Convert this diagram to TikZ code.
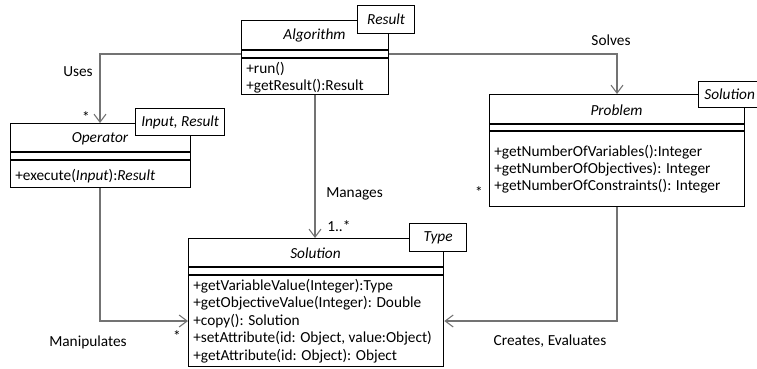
\documentclass[tikz,border=0pt]{standalone}
\usepackage{fontspec}
\setmainfont{Carlito}
\usetikzlibrary{arrows.meta,calc}
\begin{document}
\begin{tikzpicture}[x=0.75pt,y=-0.75pt,
  font=\fontsize{11.5}{13}\selectfont,
  cls/.style={draw=black, line width=1pt, fill=white, anchor=north west, inner sep=0pt},
  tmpl/.style={draw=black, line width=1pt, fill=white, anchor=north west, inner sep=0pt, font=\fontsize{11.5}{13}\selectfont\itshape},
  sepline/.style={draw=black, line width=1pt},
  conn/.style={draw=black!55, line width=0.8pt},
  arr/.style={-{Straight Barb[length=6pt,width=9pt,line width=0.8pt]}},
  cname/.style={inner sep=0pt, font=\fontsize{11.5}{13}\selectfont\itshape},
  opn/.style={anchor=west, inner sep=0pt},
  lbl/.style={inner sep=0pt}
]
\useasboundingbox (0,0) rectangle (757,368);

% ---------- Algorithm ----------
\node[cls, minimum width={147*0.75pt}, minimum height={74*0.75pt}] (alg) at (241,20) {};
\draw[sepline] ($(alg.north west)+(0,30)$) -- ($(alg.north east)+(0,30)$);
\draw[sepline] ($(alg.north west)+(0,38)$) -- ($(alg.north east)+(0,38)$);
\node[cname] (algn) at (314.5,35) {Algorithm};
\node[opn] (alg1) at (246,69) {+run()};
\node[opn] (alg2) at (246,86) {+getResult():Result};
\node[tmpl, minimum width={57*0.75pt}, minimum height={28*0.75pt}] (algt) at (357,5) {Result};

% ---------- Operator ----------
\node[cls, minimum width={180*0.75pt}, minimum height={64*0.75pt}] (op) at (10,123) {};
\draw[sepline] ($(op.north west)+(0,29)$) -- ($(op.north east)+(0,29)$);
\draw[sepline] ($(op.north west)+(0,37)$) -- ($(op.north east)+(0,37)$);
\node[cname] (opn) at (100,139) {Operator};
\node[opn] (op1) at (15,176) {+execute(\textit{Input}):\textit{Result}};
\node[tmpl, minimum width={89*0.75pt}, minimum height={27*0.75pt}] (opt) at (135,108) {Input, Result};

% ---------- Problem ----------
\node[cls, minimum width={255*0.75pt}, minimum height={112*0.75pt}] (pb) at (489,94) {};
\draw[sepline] ($(pb.north west)+(0,30)$) -- ($(pb.north east)+(0,30)$);
\draw[sepline] ($(pb.north west)+(0,37)$) -- ($(pb.north east)+(0,37)$);
\node[cname] (pbn) at (616.5,110) {Problem};
\node[opn] (pb1) at (494,152) {+getNumberOfVariables():Integer};
\node[opn] (pb2) at (494,169) {+getNumberOfObjectives): Integer};
\node[opn] (pb3) at (494,186) {+getNumberOfConstraints(): Integer};
\node[tmpl, minimum width={62*0.75pt}, minimum height={26*0.75pt}] (pbt) at (698,81) {Solution};

% ---------- Solution ----------
\node[cls, minimum width={255*0.75pt}, minimum height={128*0.75pt}] (sol) at (188,238) {};
\draw[sepline] ($(sol.north west)+(0,29)$) -- ($(sol.north east)+(0,29)$);
\draw[sepline] ($(sol.north west)+(0,37)$) -- ($(sol.north east)+(0,37)$);
\node[cname] (soln) at (315.5,253) {Solution};
\node[opn] (sol1) at (193,286) {+getVariableValue(Integer):Type};
\node[opn] (sol2) at (193,303.5) {+getObjectiveValue(Integer): Double};
\node[opn] (sol3) at (193,321) {+copy(): Solution};
\node[opn] (sol4) at (193,338.5) {+setAttribute(id: Object, value:Object)};
\node[opn] (sol5) at (193,356) {+getAttribute(id: Object): Object};
\node[tmpl, minimum width={57*0.75pt}, minimum height={28*0.75pt}] (solt) at (409,223) {Type};

% ---------- helper coordinates ----------
\coordinate (hy) at (0,54);
\coordinate (vuse) at (100,0);
\coordinate (vsol) at (617,0);
\coordinate (vman) at (315,0);
\coordinate (hbot) at (0,321);
\coordinate (b1) at (100,321);
\coordinate (b2) at (617,321);
\coordinate (c1) at (100,54);
\coordinate (c2) at (617,54);

% ---------- connectors ----------
\draw[conn,arr] (alg.west |- hy) -- (c1) -- (op.north -| vuse);
\draw[conn,arr] (alg.east |- hy) -- (c2) -- (pb.north -| vsol);
\draw[conn,arr] (alg.south -| vman) -- (sol.north -| vman);
\draw[conn,arr] (op.south -| vuse) -- (b1) -- (sol.west |- hbot);
\draw[conn,arr] (pb.south -| vsol) -- (b2) -- (sol.east |- hbot);

% ---------- labels ----------
\node[lbl] (luses) at (78,72) {Uses};
\node[lbl] (lsolves) at (611,40) {Solves};
\node[lbl, anchor=west] (lman) at (326,194) {Manages};
\node[lbl, anchor=west] (lmult) at (327,226) {1..*};
\node[lbl] (s1) at (86,117) {*};
\node[lbl] (s2) at (177,336) {*};
\node[lbl] (s3) at (479,192) {*};
\node[lbl] (lmanip) at (88,342) {Manipulates};
\node[lbl] (lce) at (550,341) {Creates, Evaluates};
\end{tikzpicture}
\end{document}
